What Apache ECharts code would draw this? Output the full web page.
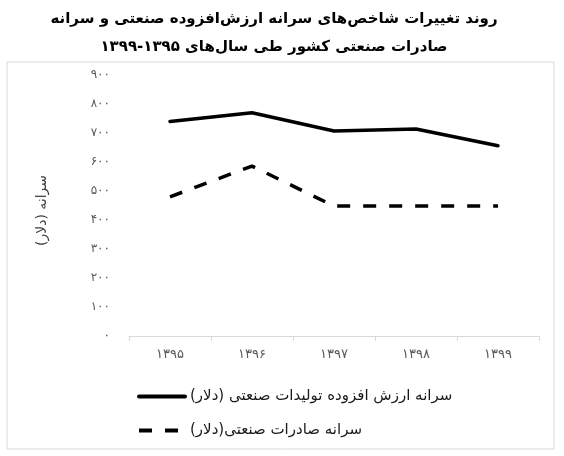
<!DOCTYPE html>
<html>
<head>
<meta charset="utf-8">
<script src="https://cdn.jsdelivr.net/npm/echarts@6/dist/echarts.min.js"></script>
<style>
  html, body { margin: 0; padding: 0; background: #fff; }
  #chart { width: 564px; height: 456px; }
</style>
</head>
<body>
<div id="chart"></div>
<script>
// سال‌ها و مقادیر خوانده‌شده از نمودار
const years = ["۱۳۹۵", "۱۳۹۶", "۱۳۹۷", "۱۳۹۸", "۱۳۹۹"];
const valueAdded = [740, 770, 707, 714, 656];
const exportsPerCapita = [480, 586, 448, 448, 448];
const yTicks = ["۰", "۱۰۰", "۲۰۰", "۳۰۰", "۴۰۰", "۵۰۰", "۶۰۰", "۷۰۰", "۸۰۰", "۹۰۰"];
const seriesNames = ["سرانه ارزش افزوده تولیدات صنعتی (دلار)", "سرانه صادرات صنعتی(دلار)"];
const titleLines = [
  "روند تغییرات شاخص‌های سرانه ارزش‌افزوده صنعتی و سرانه",
  "صادرات صنعتی کشور طی سال‌های ۱۳۹۵-۱۳۹۹",
];

const font = "DejaVu Sans";
const chart = echarts.init(document.getElementById("chart"), null, { renderer: "canvas" });

chart.setOption({
  backgroundColor: "#fff",
  animation: false,
  title: {
    text: titleLines.join("\n"),
    left: 269, top: 0, textAlign: "center",
    textStyle: { fontFamily: font, fontSize: 15, fontWeight: "bold", color: "#000", lineHeight: 28 },
  },
  graphic: [{
    type: "rect", shape: { x: 7, y: 62, width: 547, height: 387 },
    style: { fill: "none", stroke: "#d9d9d9", lineWidth: 1 }, silent: true,
  }],
  grid: { left: 129, right: 25, top: 75, bottom: 120 },
  legend: {
    orient: "vertical", left: 132, top: 384, itemGap: 19,
    itemWidth: 46, itemHeight: 16,
    itemStyle: { opacity: 0 },
    lineStyle: { width: 4 },
    textStyle: { fontFamily: font, fontSize: 15, color: "#1a1a1a" },
    data: seriesNames,
  },
  xAxis: {
    type: "category", data: years, boundaryGap: true,
    axisLine: { lineStyle: { color: "#d9d9d9", width: 1 } },
    axisTick: { show: true, length: 5, lineStyle: { color: "#d9d9d9" } },
    axisLabel: { fontFamily: font, fontSize: 13, color: "#595959", margin: 12 },
  },
  yAxis: {
    type: "value", min: 0, max: 900, interval: 100,
    name: "سرانه (دلار)", nameLocation: "middle", nameGap: 80, nameRotate: 90,
    nameTextStyle: { fontFamily: font, fontSize: 14, color: "#404040", padding: [0, 10, 0, 0] },
    axisLine: { show: false }, axisTick: { show: false }, splitLine: { show: false },
    axisLabel: {
      fontFamily: font, fontSize: 12, color: "#595959", margin: 19,
      formatter: (v) => yTicks[Math.round(v / 100)],
    },
  },
  series: [
    {
      name: seriesNames[0], type: "line", data: valueAdded,
      symbol: "none", itemStyle: { color: "#000" },
      lineStyle: { color: "#000", width: 3.5, cap: "round" },
    },
    {
      name: seriesNames[1], type: "line", data: exportsPerCapita,
      symbol: "none", itemStyle: { color: "#000" },
      lineStyle: { color: "#000", width: 3.5, type: [13, 13], cap: "butt" },
    },
  ],
});
</script>
</body>
</html>
